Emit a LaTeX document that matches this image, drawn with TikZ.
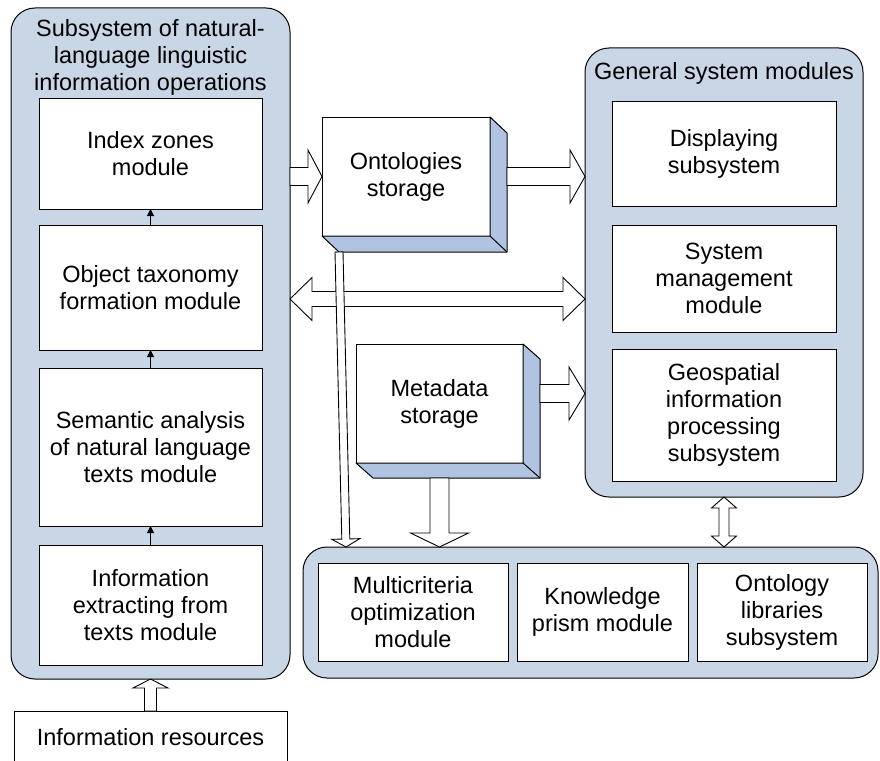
\documentclass[tikz,border=0pt]{standalone}
\usepackage{fontspec}
\setmainfont{Liberation Sans}
\usetikzlibrary{positioning, calc, arrows.meta}
\definecolor{PanelBlue}{RGB}{200,214,230}
\definecolor{DepthBlue}{RGB}{176,196,225}

% hollow block arrow: start, end, shaft half width, head half width, head length
\newcommand{\blkarrow}[5]{%
  \path (#1) coordinate (ba-s) (#2) coordinate (ba-e);
  \pgfmathanglebetweenpoints{\pgfpointanchor{ba-s}{center}}{\pgfpointanchor{ba-e}{center}}%
  \let\baang\pgfmathresult
  \pgfpointdiff{\pgfpointanchor{ba-s}{center}}{\pgfpointanchor{ba-e}{center}}%
  \pgfgetlastxy{\badx}{\bady}%
  \pgfmathveclen{\badx}{\bady}\let\balen\pgfmathresult
  \draw[blk, shift={(ba-s)}, rotate=\baang]
    (0pt,#3pt) -- (\balen pt-#5pt,#3pt) -- (\balen pt-#5pt,#4pt) -- (\balen pt,0pt)
    -- (\balen pt-#5pt,-#4pt) -- (\balen pt-#5pt,-#3pt) -- (0pt,-#3pt) -- cycle;
}
% same, with a head at both ends
\newcommand{\dblarrow}[5]{%
  \path (#1) coordinate (ba-s) (#2) coordinate (ba-e);
  \pgfmathanglebetweenpoints{\pgfpointanchor{ba-s}{center}}{\pgfpointanchor{ba-e}{center}}%
  \let\baang\pgfmathresult
  \pgfpointdiff{\pgfpointanchor{ba-s}{center}}{\pgfpointanchor{ba-e}{center}}%
  \pgfgetlastxy{\badx}{\bady}%
  \pgfmathveclen{\badx}{\bady}\let\balen\pgfmathresult
  \draw[blk, shift={(ba-s)}, rotate=\baang]
    (#5pt,#3pt) -- (\balen pt-#5pt,#3pt) -- (\balen pt-#5pt,#4pt) -- (\balen pt,0pt)
    -- (\balen pt-#5pt,-#4pt) -- (\balen pt-#5pt,-#3pt) -- (#5pt,-#3pt)
    -- (#5pt,-#4pt) -- (0pt,0pt) -- (#5pt,#4pt) -- cycle;
}
% side and bottom faces of a storage block
\newcommand{\depthface}[3]{%
  \filldraw[depth] (#1.north east) -- ([shift={(#2,-#3)}]#1.north east)
    -- ([shift={(#2,-#3)}]#1.south east) -- ([shift={(#2,-#3)}]#1.south west)
    -- (#1.south west) -- (#1.south east) -- cycle;
  \draw[depth, fill=none] (#1.south east) -- ([shift={(#2,-#3)}]#1.south east);
}

\begin{document}
\begin{tikzpicture}[x=1pt, y=-1pt,
  panel/.style={draw, fill=PanelBlue, rounded corners=24pt, line width=1pt, outer sep=0pt},
  module/.style={draw, fill=white, line width=1pt, align=center, outer sep=0pt,
                 minimum width=223pt, inner sep=2pt},
  store/.style={draw, fill=white, line width=1pt, align=center, outer sep=0pt,
                minimum width=168pt, minimum height=119pt},
  depth/.style={draw, fill=DepthBlue, line width=1pt, line join=round},
  blk/.style={draw, fill=white, line width=0.9pt, line join=miter},
  tip/.style={-{Triangle[length=7pt,width=7pt]}, line width=0.9pt},
  title/.style={align=center},
  font=\fontsize{23.5}{27}\selectfont
]
\useasboundingbox (0,0) rectangle (880,760);

% left subsystem
\node[panel, minimum width=279pt, minimum height=671pt] (lsys) at (150.5,343.5) {};
\node[title] (ltitle) at (150.5,57.5) {Subsystem of natural-\\language linguistic\\information operations};
\node[module, minimum height=111pt] (index) at (150.5,153.5) {Index zones\\module};
\node[module, minimum height=125pt, below=16pt of index] (taxon) {Object taxonomy\\formation module};
\node[module, minimum height=158pt, below=18pt of taxon] (seman) {Semantic analysis\\of natural language\\texts module};
\node[module, minimum height=120pt, below=19pt of seman] (extract) {Information\\extracting from\\texts module};
\node[module, minimum width=273pt, minimum height=52pt, anchor=north] (inres) at (150.5,711) {Information resources};

\draw[tip] (extract.north) -- (seman.south);
\draw[tip] (seman.north) -- (taxon.south);
\draw[tip] (taxon.north) -- (index.south);

% general system modules
\node[panel, minimum width=278pt, minimum height=449pt] (rsys) at (724,272.5) {};
\node[title] (rtitle) at (724,73) {General system modules};
\node[module, minimum width=224pt, minimum height=105pt] (display) at (724,153.5) {Displaying\\subsystem};
\node[module, minimum width=224pt, minimum height=107pt, below=19pt of display] (manage) {System\\management\\module};
\node[module, minimum width=224pt, minimum height=132pt, below=17pt of manage] (geo) {Geospatial\\information\\processing\\subsystem};

% storages
\node[store] (onto) at (406,176.5) {Ontologies\\storage};
\depthface{onto}{17pt}{16pt}
\node[store, minimum width=167pt] (meta) at (439.5,403.5) {Metadata\\storage};
\depthface{meta}{17pt}{15pt}

% bottom modules
\node[panel, minimum width=575pt, minimum height=131pt] (bsys) at (590.5,612.5) {};
\node[module, minimum width=190pt, minimum height=98pt] (multi) at (413,612) {Multicriteria\\optimization\\module};
\node[module, minimum width=171pt, minimum height=98pt, right=9pt of multi] (prism) {Knowledge\\prism module};
\node[module, minimum width=170pt, minimum height=98pt, right=9pt of prism] (olib) {Ontology\\libraries\\subsystem};

% block arrows
\coordinate (hy) at (0,299);
\coordinate (mg) at ([shift={(17pt,10pt)}]meta.east);
\coordinate (ot) at ([shift={(17pt,-16pt)}]onto.south west);
\coordinate (ob) at ($(ot |- bsys.north)+(7pt,0pt)$);
\blkarrow{lsys.east |- onto.west}{onto.west}{9}{26.5}{14}
\blkarrow{[xshift=17pt]onto.east}{rsys.west |- onto.east}{9}{26.5}{15}
\dblarrow{lsys.east |- hy}{rsys.west |- hy}{7.5}{21.5}{22}
\blkarrow{mg}{rsys.west |- mg}{9}{26.5}{16}
\blkarrow{[yshift=-15pt]meta.south}{bsys.north -| meta.south}{9.5}{29}{14}
\blkarrow{ot}{ob}{4}{14}{8}
\dblarrow{rsys.south}{bsys.north -| rsys.south}{5}{12.5}{11}
\blkarrow{inres.north}{lsys.south}{6}{17.5}{9}
\end{tikzpicture}
\end{document}
